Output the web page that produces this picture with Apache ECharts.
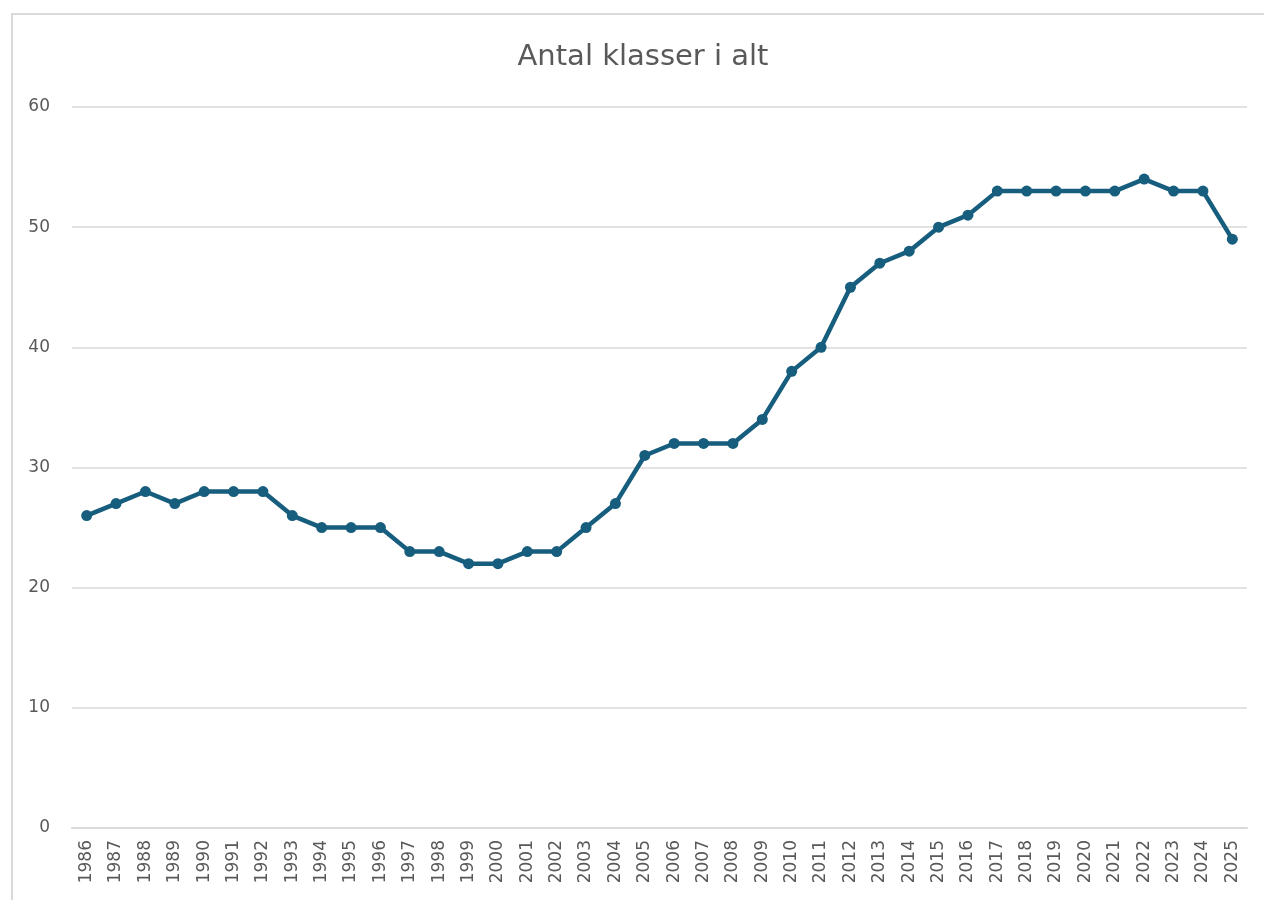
<!DOCTYPE html>
<html>
<head>
<meta charset="utf-8">
<script src="https://cdn.jsdelivr.net/npm/echarts@6/dist/echarts.min.js"></script>
<style>
  html, body { margin: 0; padding: 0; background: #fff; }
  #frame { position: absolute; left: 11px; top: 13px; width: 1400px; height: 1000px;
           border-top: 2px solid #d9d9d9; border-left: 2px solid #d9d9d9; }
  #chart { position: absolute; left: 0; top: 0; width: 1264px; height: 900px; }
</style>
</head>
<body>
<div id="frame"></div>
<div id="chart"></div>
<script>
const years = ['1986','1987','1988','1989','1990','1991','1992','1993','1994','1995',
  '1996','1997','1998','1999','2000','2001','2002','2003','2004','2005',
  '2006','2007','2008','2009','2010','2011','2012','2013','2014','2015',
  '2016','2017','2018','2019','2020','2021','2022','2023','2024','2025'];
const klasser = [26, 27, 28, 27, 28, 28, 28, 26, 25, 25,
  25, 23, 23, 22, 22, 23, 23, 25, 27, 31,
  32, 32, 32, 34, 38, 40, 45, 47, 48, 50,
  51, 53, 53, 53, 53, 53, 54, 53, 53, 49];

const chart = echarts.init(document.getElementById('chart'));
chart.setOption({
  animation: false,
  title: {
    text: 'Antal klasser i alt',
    left: 638,
    textAlign: 'center',
    top: 38,
    textStyle: { fontFamily: 'DejaVu Sans', fontSize: 29, fontWeight: 'normal', color: '#595959' }
  },
  grid: { left: 72, right: 17, top: 107, bottom: 72 },
  xAxis: {
    type: 'category',
    data: years,
    boundaryGap: true,
    axisLine: { lineStyle: { color: '#d9d9d9', width: 2 } },
    axisTick: { show: false },
    axisLabel: { rotate: 90, margin: 12, fontFamily: 'DejaVu Sans', fontSize: 17, color: '#595959', interval: 0 }
  },
  yAxis: {
    type: 'value',
    min: 0, max: 60, interval: 10,
    axisLine: { show: false },
    axisTick: { show: false },
    splitLine: { lineStyle: { color: '#d9d9d9', width: 1.5 } },
    axisLabel: { margin: 22, fontFamily: 'DejaVu Sans', fontSize: 17, color: '#595959' }
  },
  series: [{
    type: 'line',
    data: klasser,
    symbol: 'circle',
    symbolSize: 11,
    lineStyle: { width: 4.5, color: '#175d7d' },
    itemStyle: { color: '#175d7d' }
  }]
});
</script>
</body>
</html>
